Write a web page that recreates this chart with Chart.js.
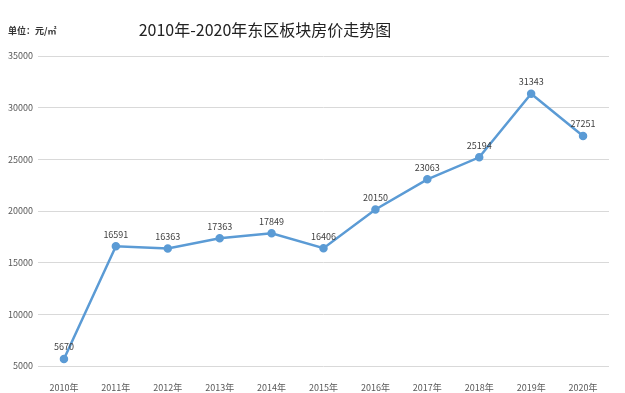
<!DOCTYPE html>
<html lang="zh">
<head>
  <meta charset="UTF-8">
  <title>2010年-2020年东区板块房价走势图</title>
  <script src="https://cdn.jsdelivr.net/npm/chart.js"></script>
  <style>
    html, body { margin: 0; padding: 0; background: #fff; }
    #chartContainer { width: 625px; height: 393px; }
  </style>
</head>
<body>
  <div id="chartContainer">
    <canvas id="priceChart"></canvas>
  </div>

  <script>
    const years = ["2010年", "2011年", "2012年", "2013年", "2014年", "2015年", "2016年", "2017年", "2018年", "2019年", "2020年"];
    const prices = [5670, 16591, 16363, 17363, 17849, 16406, 20150, 23063, 25194, 31343, 27251];
    const titleText = "2010年-2020年东区板块房价走势图";
    const unitText = "单位：元/㎡";

    const font = "'Noto Sans CJK SC', 'Microsoft YaHei', sans-serif";

    // value labels above points + title and unit text
    const extras = {
      id: 'extras',
      afterDatasetsDraw(chart) {
        const ctx = chart.ctx;
        const meta = chart.getDatasetMeta(0);
        ctx.save();
        ctx.font = "9px " + font;
        ctx.fillStyle = '#404040';
        ctx.textAlign = 'center';
        ctx.textBaseline = 'middle';
        meta.data.forEach((pt, i) => {
          ctx.fillText(String(prices[i]), pt.x, pt.y - 12);
        });
        ctx.restore();
      },
      afterDraw(chart) {
        const ctx = chart.ctx;
        ctx.save();
        ctx.fillStyle = '#222';
        ctx.textBaseline = 'middle';
        ctx.textAlign = 'center';
        ctx.font = "16px " + font;
        ctx.fillText(titleText, 265, 30);
        ctx.textAlign = 'left';
        ctx.font = "bold 9px " + font;
        ctx.fillStyle = '#333';
        ctx.fillText(unitText, 8, 31);
        ctx.restore();
      }
    };

    const ctx = document.getElementById('priceChart').getContext('2d');
    new Chart(ctx, {
      type: 'line',
      data: {
        labels: years,
        datasets: [{
          data: prices,
          borderColor: '#5b9bd5',
          backgroundColor: '#5b9bd5',
          borderWidth: 2.5,
          pointRadius: 3,
          pointHoverRadius: 3,
          tension: 0
        }]
      },
      options: {
        responsive: true,
        maintainAspectRatio: false,
        animation: false,
        layout: { padding: { top: 56, right: 16, left: 0, bottom: 0 } },
        plugins: {
          legend: { display: false },
          title: { display: false },
          tooltip: { enabled: false }
        },
        scales: {
          x: {
            offset: true,
            grid: { display: false },
            border: { display: false },
            ticks: { color: '#595959', font: { size: 9, family: font }, padding: 8, maxRotation: 0 },
            afterFit(scale) { scale.height = 27; }
          },
          y: {
            min: 5000,
            max: 35000,
            ticks: {
              stepSize: 5000,
              color: '#595959',
              font: { size: 9, family: font },
              padding: 5,
              callback: v => String(v)
            },
            grid: { color: '#d9d9d9', drawTicks: false },
            border: { display: false },
            afterFit(scale) { scale.width = 38; }
          }
        }
      },
      plugins: [extras]
    });
  </script>
</body>
</html>
